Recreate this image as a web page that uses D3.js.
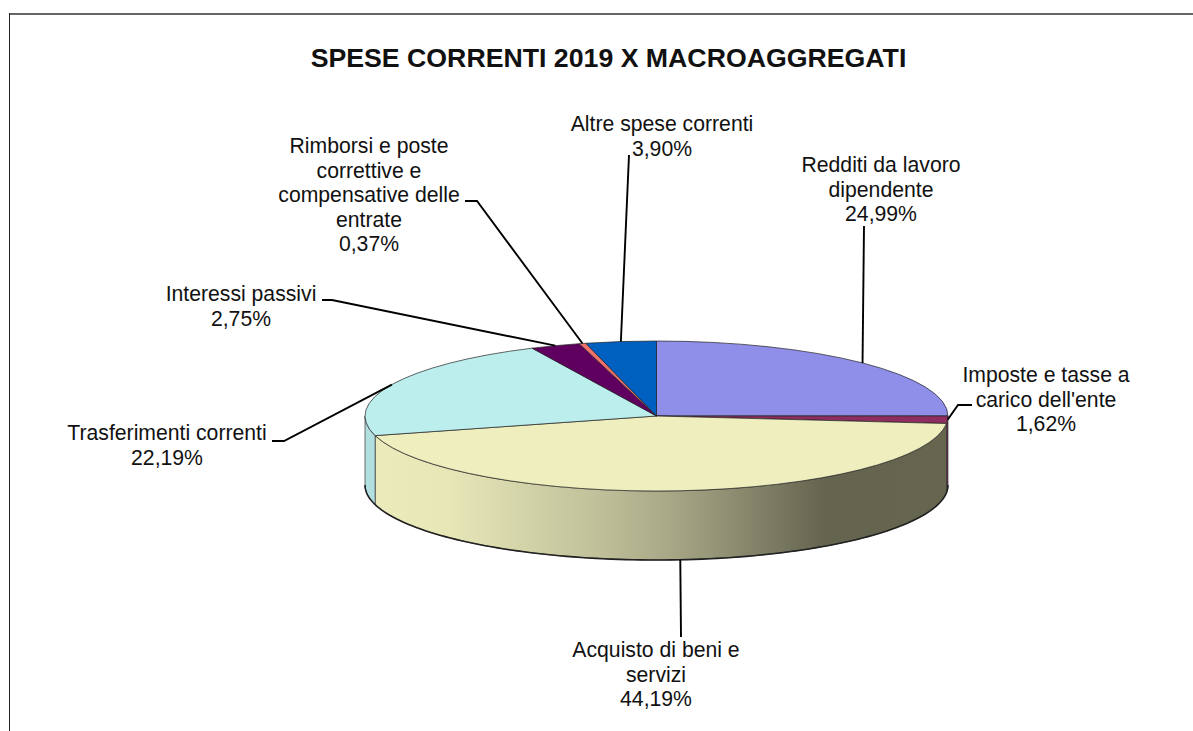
<!DOCTYPE html>
<html>
<head>
    <meta charset="utf-8">
    <script src="https://cdn.jsdelivr.net/npm/d3@7"></script>
    <style>
        html, body { margin: 0; padding: 0; background: #fff; }
        svg { display: block; }
        text { font-family: "Liberation Sans", Arial, sans-serif; fill: #111; text-anchor: middle; }
    </style>
</head>
<body>
    <div id="chart"></div>
    <script>
        // data
        var chartTitle = "SPESE CORRENTI 2019 X MACROAGGREGATI";
        var categories = ["Redditi da lavoro dipendente", "Imposte e tasse a carico dell'ente", "Acquisto di beni e servizi",
            "Trasferimenti correnti", "Interessi passivi", "Rimborsi e poste correttive e compensative delle entrate", "Altre spese correnti"];
        var values = [24.99, 1.62, 44.19, 22.19, 2.75, 0.37, 3.90];

        // label wrapping, as in the original
        var labelLines = [
            ["Redditi da lavoro", "dipendente"],
            ["Imposte e tasse a", "carico dell'ente"],
            ["Acquisto di beni e", "servizi"],
            ["Trasferimenti correnti"],
            ["Interessi passivi"],
            ["Rimborsi e poste", "correttive e", "compensative delle", "entrate"],
            ["Altre spese correnti"]
        ];

        var topColors = ["#8f8fea", "#8e2e60", "#eeeebe", "#bceeee", "#5f0060", "#f0706c", "#0060c0"];
        var wallColors = ["#8f8fea", "#6e2450", "url(#wallGradient)", "#b2e0e0", "#5f0060", "#f0706c", "#0060c0"];

        // label centre x, y of first line, elbow point of the leader (leader end comes from the slice)
        var labelX = [881, 1046, 656, 167, 241, 369, 662];
        var labelY = [172, 382, 657, 440, 301, 153, 131];
        var leaderStart = [[864, 226], [972, 405], [681, 637], [272, 441], [322, 300], [465, 201], [629, 155]];
        var leaderElbow = [null, [958, 405], null, [284, 441], [332, 300], [477, 201], null];

        var width = 1193, height = 731;
        var cx = 656.5, cy = 416, rx = 291.5, ry = 75, depth = 69;
        var lineHeight = 24.5;

        var svg = d3.select("#chart").append("svg")
            .attr("width", width)
            .attr("height", height);

        var x = d3.scaleLinear().domain([-1, 1]).range([cx - rx, cx + rx]);
        var y = d3.scaleLinear().domain([-1, 1]).range([cy - ry, cy + ry]);

        // angle is clockwise from 12 o'clock, same as d3.pie
        function px(a) { return x(Math.sin(a)); }
        function py(a) { return y(-Math.cos(a)); }

        var pie = d3.pie().sort(null).value(function (d) { return d; });
        var arcs = pie(values);
        var pct = d3.formatLocale({ decimal: ",", thousands: ".", grouping: [3], currency: ["", "€"] }).format(".2f");

        // wall gradient, light on the left and dark on the right
        var gradientStops = [[375, "#ebebbc"], [450, "#e6e6b7"], [530, "#d2d2a8"], [600, "#bfbf99"], [670, "#a8a887"], [750, "#85856b"], [825, "#64644f"], [948, "#66664f"]];
        var grad = svg.append("defs").append("linearGradient")
            .attr("id", "wallGradient")
            .attr("gradientUnits", "userSpaceOnUse")
            .attr("x1", 375).attr("x2", 948).attr("y1", 0).attr("y2", 0);
        grad.selectAll("stop").data(gradientStops).enter().append("stop")
            .attr("offset", function (d) { return (d[0] - 375) / (948 - 375); })
            .attr("stop-color", function (d) { return d[1]; });

        // chart frame: only top and left edges show
        svg.append("line").attr("x1", 9).attr("x2", width).attr("y1", 14).attr("y2", 14)
            .attr("stroke", "#666").attr("stroke-width", 2);
        svg.append("line").attr("x1", 9.5).attr("x2", 9.5).attr("y1", 13).attr("y2", height)
            .attr("stroke", "#222").attr("stroke-width", 1);

        svg.append("text")
            .attr("x", 608.5).attr("y", 67)
            .style("font-size", "26.7px").style("font-weight", "bold")
            .text(chartTitle);

        // side walls, only the front half of the disc is visible
        var wallLine = d3.line();
        arcs.forEach(function (d, i) {
            var a0 = Math.max(d.startAngle, Math.PI / 2);
            var a1 = Math.min(d.endAngle, 3 * Math.PI / 2);
            if (a1 <= a0) return;
            var steps = d3.range(0, 61).map(function (k) { return a0 + (a1 - a0) * k / 60; });
            var pts = steps.map(function (a) { return [px(a), py(a)]; })
                .concat(steps.slice().reverse().map(function (a) { return [px(a), py(a) + depth]; }));
            svg.append("path")
                .attr("d", wallLine(pts) + "Z")
                .attr("fill", wallColors[i])
                .attr("stroke", "#333")
                .attr("stroke-width", 0.7);
        });

        // heavier line along the bottom of the disc
        var bottomEdge = d3.range(0, 121).map(function (k) {
            var a = Math.PI / 2 + Math.PI * k / 120;
            return [px(a), py(a) + depth];
        });
        svg.append("path").attr("d", wallLine(bottomEdge))
            .attr("fill", "none").attr("stroke", "#222").attr("stroke-width", 1.6);

        // top face: plain d3.arc squashed to an ellipse
        var arcGen = d3.arc().innerRadius(0).outerRadius(rx);
        svg.append("g")
            .attr("transform", "translate(" + cx + "," + cy + ") scale(1," + (ry / rx) + ")")
            .selectAll("path")
            .data(arcs)
            .enter()
            .append("path")
            .attr("d", arcGen)
            .attr("fill", function (d, i) { return topColors[i]; })
            .attr("stroke", "#222")
            .attr("stroke-width", 0.7)
            .attr("vector-effect", "non-scaling-stroke");

        // leader lines end on the rim at the middle of each slice
        arcs.forEach(function (d, i) {
            var mid = (d.startAngle + d.endAngle) / 2;
            var front = Math.cos(mid) < 0;
            // the label under the disc hooks onto the bottom of the wall
            var end = [px(mid), py(mid) + (i === 2 && front ? depth : 0)];
            var pts = [leaderStart[i]];
            if (leaderElbow[i]) pts.push(leaderElbow[i]);
            pts.push(end);
            svg.append("path")
                .attr("d", wallLine(pts))
                .attr("fill", "none")
                .attr("stroke", "#000")
                .attr("stroke-width", 1.9);
        });

        // labels
        categories.forEach(function (name, i) {
            var lines = labelLines[i].concat([pct(values[i]) + "%"]);
            var t = svg.append("text").attr("aria-label", name);
            lines.forEach(function (s, k) {
                t.append("tspan")
                    .attr("x", labelX[i])
                    .attr("y", labelY[i] + k * lineHeight)
                    .style("font-size", "21.2px")
                    .text(s);
            });
        });
    </script>
</body>
</html>
